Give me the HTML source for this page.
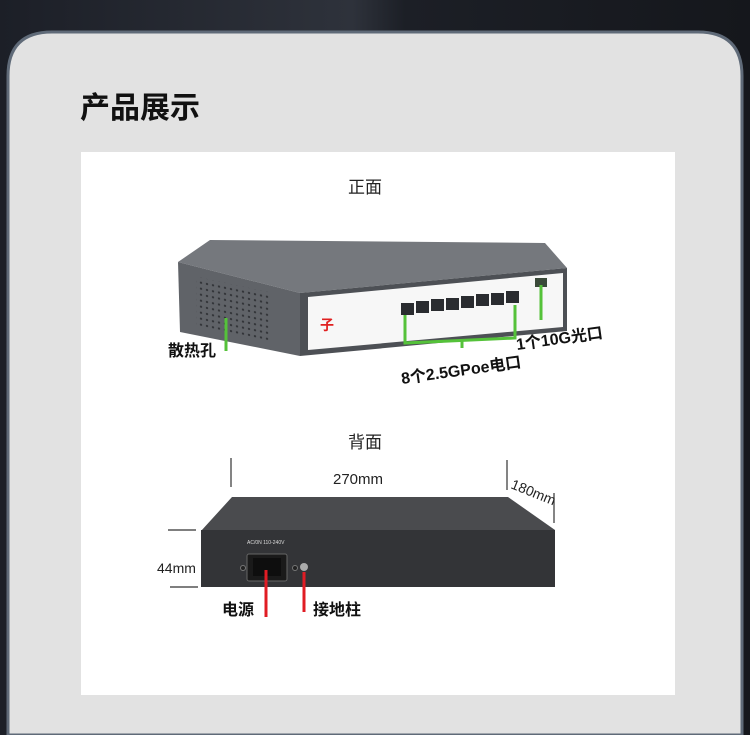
<!DOCTYPE html>
<html><head><meta charset="utf-8"><style>
html,body{margin:0;padding:0;width:750px;height:735px;overflow:hidden;background:#1b1e25}
svg{display:block}
text{font-family:"Liberation Sans","Noto Sans CJK SC",sans-serif}
</style></head><body>
<svg width="750" height="735" viewBox="0 0 750 735" xmlns="http://www.w3.org/2000/svg">
<defs>
<linearGradient id="bg" x1="0" x2="1"><stop offset="0" stop-color="#1c1f27"/><stop offset="0.47" stop-color="#2e323b"/><stop offset="0.54" stop-color="#1c1f26"/><stop offset="1" stop-color="#15171c"/></linearGradient>
<pattern id="holes" width="6" height="6" patternUnits="userSpaceOnUse"><circle cx="3" cy="3" r="1.1" fill="#2e3034"/></pattern>
</defs>
<rect width="750" height="735" fill="url(#bg)"/>
<path d="M8,735 L8,76 Q8,32 52,32 L698,32 Q742,32 742,76 L742,735 Z" fill="#e2e2e2" stroke="#5f6a78" stroke-width="3"/>
<text x="80" y="118" font-size="30" font-weight="bold" fill="#111">产品展示</text>
<rect x="81" y="152" width="594" height="543" fill="#fff"/>
<text x="365" y="193" font-size="17" text-anchor="middle" fill="#222">正面</text>
<polygon points="178,262 210,240 545,243 567,268 300,293" fill="#75787d"/>
<polygon points="178,262 300,293 300,356 180,332" fill="#606368"/>
<rect x="196" y="280" width="75" height="50" fill="url(#holes)" transform="skewY(12) translate(0,-45)"/>
<polygon points="300,293 567,268 567,331 300,356" fill="#4d5055"/>
<polygon points="308,297 563,273 563,327 308,350" fill="#f7f7f7"/>
<text x="320" y="330" font-size="14" fill="#e02020" font-weight="bold">子</text>
<g fill="#2a2c30">
<rect x="401" y="303" width="13" height="12"/><rect x="416" y="301" width="13" height="12"/><rect x="431" y="299" width="13" height="12"/><rect x="446" y="298" width="13" height="12"/><rect x="461" y="296" width="13" height="12"/><rect x="476" y="294" width="13" height="12"/><rect x="491" y="293" width="13" height="12"/><rect x="506" y="291" width="13" height="12"/>
<rect x="535" y="278" width="12" height="9" fill="#3a4a3a"/></g>
<g stroke="#55c23a" stroke-width="3" fill="none">
<line x1="226" y1="318" x2="226" y2="351"/>
<polyline points="405,315 405,343 515,338 515,305"/>
<line x1="462" y1="340" x2="462" y2="348"/>
<line x1="541" y1="285" x2="541" y2="320"/>
</g>
<text x="168" y="356" font-size="16" font-weight="bold" fill="#111">散热孔</text>
<text x="402" y="384" font-size="16" font-weight="bold" fill="#111" transform="rotate(-8 402 384)">8个2.5GPoe电口</text>
<text x="517" y="350" font-size="16" font-weight="bold" fill="#111" transform="rotate(-8 517 350)">1个10G光口</text>
<text x="365" y="448" font-size="17" text-anchor="middle" fill="#222">背面</text>
<g stroke="#333" stroke-width="1.2">
<line x1="231" y1="458" x2="231" y2="487"/>
<line x1="507" y1="460" x2="507" y2="490"/>
<line x1="554" y1="493" x2="554" y2="523"/>
<line x1="168" y1="530" x2="196" y2="530"/>
<line x1="170" y1="587" x2="198" y2="587"/>
</g>
<text x="358" y="484" font-size="15" text-anchor="middle" fill="#222">270mm</text>
<text x="510" y="488" font-size="14" fill="#222" transform="rotate(22 510 488)">180mm</text>
<text x="157" y="573" font-size="14" fill="#222">44mm</text>
<polygon points="232,497 508,497 555,530 201,531" fill="#4a4b4e"/>
<rect x="201" y="530" width="354" height="57" fill="#333437"/>
<text x="247" y="544" font-size="5" fill="#ddd">AC/0N 110-240V</text>
<rect x="247" y="554" width="40" height="27" rx="2" fill="#1a1a1a" stroke="#666"/>
<rect x="253" y="558" width="28" height="18" fill="#0e0e0e"/>
<circle cx="243" cy="568" r="2.5" fill="#222" stroke="#777"/>
<circle cx="295" cy="568" r="2.5" fill="#222" stroke="#777"/>
<circle cx="304" cy="567" r="4" fill="#aaa"/>
<g stroke="#e01c24" stroke-width="3">
<line x1="266" y1="570" x2="266" y2="617"/>
<line x1="304" y1="572" x2="304" y2="612"/>
</g>
<text x="222" y="615" font-size="16" font-weight="bold" fill="#111">电源</text>
<text x="313" y="615" font-size="16" font-weight="bold" fill="#111">接地柱</text>
</svg>
</body></html>
